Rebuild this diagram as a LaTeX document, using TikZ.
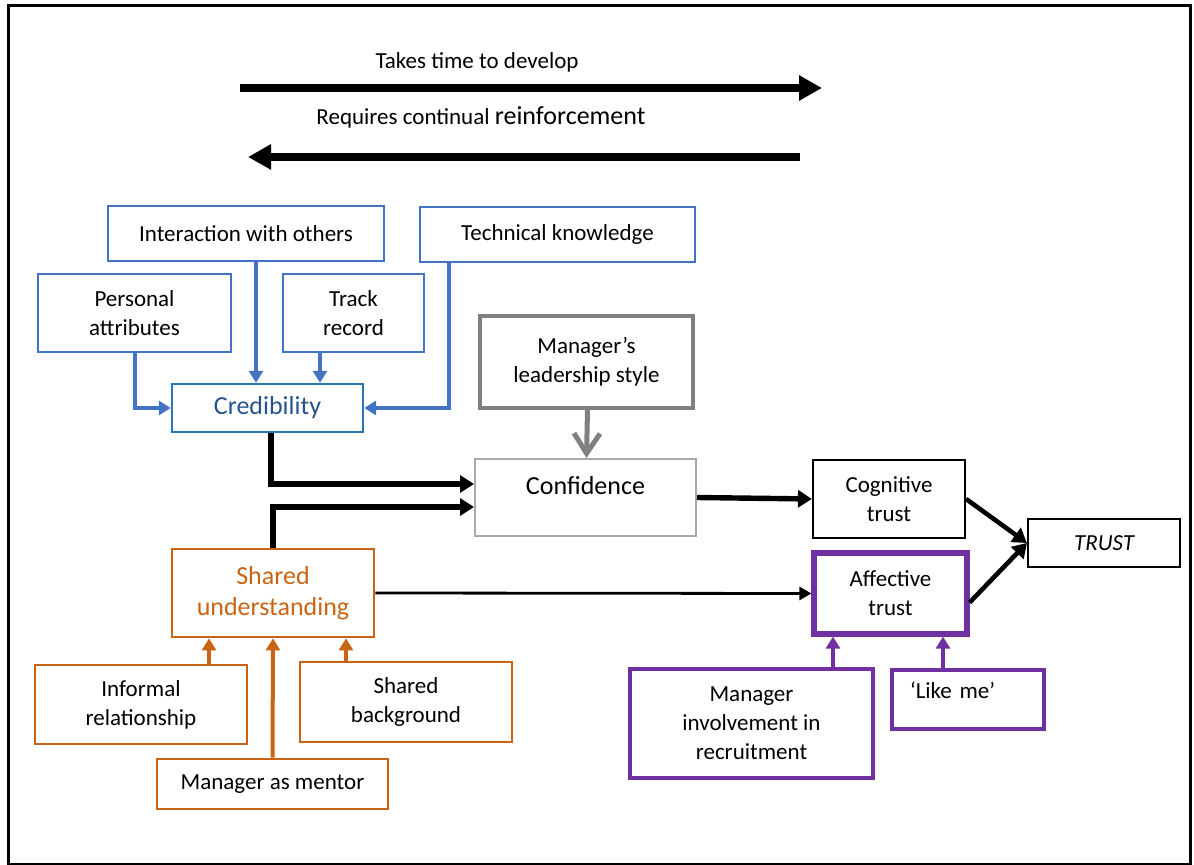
\documentclass[tikz,border=0pt]{standalone}
\usepackage{fontspec}
\setmainfont{Carlito}
\usetikzlibrary{calc, arrows.meta}

\definecolor{credblue}{RGB}{68,114,196}
\definecolor{credline}{RGB}{46,117,182}
\definecolor{credtext}{RGB}{38,84,140}
\definecolor{sharedor}{RGB}{200,100,20}
\definecolor{affpurple}{RGB}{112,48,160}
\definecolor{leadgray}{RGB}{128,128,128}
\definecolor{confgray}{RGB}{170,170,170}

\newcommand{\boxfont}{\fontsize{11.5}{14.5}\selectfont}
\newcommand{\bigfont}{\fontsize{13}{15.5}\selectfont}

\begin{document}
\begin{tikzpicture}[x=0.5pt, y=-0.5pt,
  box/.style={draw, align=center, inner sep=2pt, font=\boxfont},
  bluebox/.style={box, credblue, line width=1.1pt, text=black},
  orbox/.style={box, sharedor, line width=1.4pt, text=black},
  purpbox/.style={box, affpurple, line width=2pt, text=black},
  bluearr/.style={credblue, line width=2pt, -{Triangle[length=6pt, width=7pt]}},
  orarr/.style={sharedor, line width=2pt, -{Triangle[length=6pt, width=7pt]}},
  purparr/.style={affpurple, line width=2pt, -{Triangle[length=6pt, width=7pt]}},
  blackarr/.style={black, line width=2.7pt, -{Triangle[length=7pt, width=8.5pt]}},
  bigarr/.style={black, line width=4pt, -{Triangle[length=11.5pt, width=12pt]}}]
  \useasboundingbox (0,0) rectangle (1194,865);
  \draw[line width=1.5pt] (8,6) rectangle (1190,864);

  % the two arrows at the top
  \coordinate (dev0) at (240,88);
  \coordinate (dev1) at (822,88);
  \coordinate (rein0) at (800,157);
  \coordinate (rein1) at (248,157);
  \node[font=\boxfont] (devtext) at (477,62) {Takes time to develop};
  \node[font=\boxfont] (reintext) at (481,117)
    {Requires continual {\fontsize{13}{15}\selectfont reinforcement}};
  \draw[bigarr] (dev0) -- (dev1);
  \draw[bigarr] (rein0) -- (rein1);

  % credibility and what feeds it
  \node[bluebox, minimum width=138pt, minimum height=27.5pt] (interact) at (246,233.5) {Interaction with others};
  \node[bluebox, minimum width=137.5pt, minimum height=27.5pt] (technical) at (557.5,234.5) {Technical knowledge};
  \node[bluebox, minimum width=96.5pt, minimum height=39pt] (personal) at (134.5,313) {Personal\\attributes};
  \node[bluebox, minimum width=70.5pt, minimum height=39pt] (track) at (353.5,313) {Track\\record};
  \node[box, credline, line width=1.2pt, text=credtext, font=\bigfont,
    minimum width=95.5pt, minimum height=24pt] (cred) at (267.5,408) {Credibility};

  \coordinate (i1) at ($(interact.south)+(10,0)$);
  \coordinate (t1) at ($(track.south)+(-33.5,0)$);
  \coordinate (k1) at ($(technical.south)+(-108.5,0)$);
  \draw[bluearr] (personal.south) |- (cred.west);
  \draw[bluearr] (i1) -- (i1 |- cred.north);
  \draw[bluearr] (t1) -- (t1 |- cred.north);
  \draw[bluearr] (k1) |- (cred.east);

  % confidence
  \node[box, leadgray, line width=1.8pt, text=black, minimum width=106.5pt, minimum height=46pt]
    (leader) at (586.5,362) {Manager’s\\leadership style};
  \node[box, confgray, line width=1pt, text=black, font=\bigfont, text depth=12pt,
    minimum width=110.5pt, minimum height=38.5pt] (conf) at (585.5,497.5) {Confidence};
  \draw[leadgray, line width=2.5pt, -{Straight Barb[length=10pt, width=13pt, line width=2.5pt]}]
    ($(leader.south)+(1,0)$) -- ($(conf.north)+(1,0)$);

  \coordinate (c1) at ($(cred.south)+(3.5,0)$);
  \draw[blackarr] (c1) |- ($(conf.west)+(0,-13.5)$);

  % shared understanding
  \node[orbox, text=sharedor, font=\bigfont, minimum width=101pt, minimum height=44pt]
    (shared) at (273,593) {Shared\\understanding};
  \node[orbox, minimum width=106pt, minimum height=39.5pt] (informal) at (141,704.5) {Informal\\relationship};
  \node[orbox, minimum width=106pt, minimum height=40pt] (background) at (406,702) {Shared\\background};
  \node[orbox, minimum width=115.5pt, minimum height=25pt] (mentor) at (272.5,784) {Manager as mentor};

  \coordinate (f1) at ($(informal.north)+(68,0)$);
  \coordinate (b1) at ($(background.north)+(-60,0)$);
  \draw[orarr] (f1) -- (f1 |- shared.south);
  \draw[orarr] (mentor.north) -- (shared.south);
  \draw[orarr] (b1) -- (b1 |- shared.south);

  \draw[blackarr] (shared.north) |- ($(conf.west)+(0,9.5)$);

  % the two kinds of trust
  \node[box, black, line width=1.1pt, minimum width=76pt, minimum height=39pt] (cog) at (889,499) {Cognitive\\trust};
  \node[box, affpurple, line width=2.6pt, text=black, minimum width=76.5pt, minimum height=40.5pt]
    (aff) at (890.5,593.5) {Affective\\trust};
  \node[box, black, line width=1.1pt, font=\boxfont\itshape, minimum width=76pt, minimum height=24pt]
    (trust) at (1104,543) {TRUST};
  \node[purpbox, minimum width=121.5pt, minimum height=54.5pt] (involve) at (751.5,723.5)
    {Manager\\involvement in\\recruitment};
  \node[purpbox, line width=1.8pt, minimum width=76pt, minimum height=29.5pt, text depth=9pt,
    text width=58pt, align=left] (likeme) at (968,699.5) {‘Like me’};

  \coordinate (v1) at ($(involve.north)+(81.5,0)$);
  \coordinate (l1) at ($(likeme.north)+(-25,0)$);
  \draw[purparr] (v1) -- (v1 |- aff.south);
  \draw[purparr] (l1) -- (l1 |- aff.south);

  \draw[blackarr] (conf.east) -- (cog.west);
  \draw[black, line width=1.4pt, -{Triangle[length=6pt, width=6.5pt]}] (shared.east) -- (aff.west);
  \draw[blackarr, line width=2.3pt] (cog.east) -- (trust.west);
  \draw[blackarr, line width=2.3pt] ($(aff.east)+(0,9)$) -- (trust.west);
\end{tikzpicture}
\end{document}
